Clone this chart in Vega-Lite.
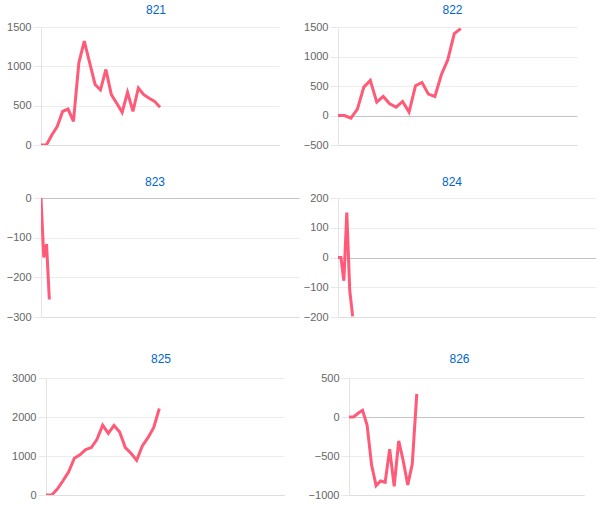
{
  "$schema": "https://vega.github.io/schema/vega-lite/v6.json",
  "padding": {"left": 0, "top": 4, "right": 0, "bottom": 0},
  "background": "#ffffff",
  "data": {"values": [
    {"p":"821","i":0,"v":0},{"p":"821","i":1,"v":0},{"p":"821","i":2,"v":128},{"p":"821","i":3,"v":235},{"p":"821","i":4,"v":427},{"p":"821","i":5,"v":457},{"p":"821","i":6,"v":300},{"p":"821","i":7,"v":1045},{"p":"821","i":8,"v":1320},{"p":"821","i":9,"v":1045},{"p":"821","i":10,"v":770},{"p":"821","i":11,"v":700},{"p":"821","i":12,"v":960},{"p":"821","i":13,"v":640},{"p":"821","i":14,"v":530},{"p":"821","i":15,"v":415},{"p":"821","i":16,"v":670},{"p":"821","i":17,"v":427},{"p":"821","i":18,"v":725},{"p":"821","i":19,"v":640},{"p":"821","i":20,"v":595},{"p":"821","i":21,"v":555},{"p":"821","i":22,"v":480},
    {"p":"822","i":0,"v":0},{"p":"822","i":1,"v":0},{"p":"822","i":2,"v":-45},{"p":"822","i":3,"v":108},{"p":"822","i":4,"v":481},{"p":"822","i":5,"v":595},{"p":"822","i":6,"v":226},{"p":"822","i":7,"v":323},{"p":"822","i":8,"v":198},{"p":"822","i":9,"v":142},{"p":"822","i":10,"v":238},{"p":"822","i":11,"v":57},{"p":"822","i":12,"v":504},{"p":"822","i":13,"v":560},{"p":"822","i":14,"v":362},{"p":"822","i":15,"v":323},{"p":"822","i":16,"v":691},{"p":"822","i":17,"v":946},{"p":"822","i":18,"v":1388},{"p":"822","i":19,"v":1472},
    {"p":"823","i":0,"v":0},{"p":"823","i":1,"v":-150},{"p":"823","i":2,"v":-116},{"p":"823","i":3,"v":-256},
    {"p":"824","i":0,"v":0},{"p":"824","i":1,"v":0},{"p":"824","i":2,"v":-78},{"p":"824","i":3,"v":151},{"p":"824","i":4,"v":-110},{"p":"824","i":5,"v":-198},
    {"p":"825","i":0,"v":0},{"p":"825","i":1,"v":0},{"p":"825","i":2,"v":150},{"p":"825","i":3,"v":365},{"p":"825","i":4,"v":595},{"p":"825","i":5,"v":943},{"p":"825","i":6,"v":1028},{"p":"825","i":7,"v":1164},{"p":"825","i":8,"v":1215},{"p":"825","i":9,"v":1427},{"p":"825","i":10,"v":1793},{"p":"825","i":11,"v":1580},{"p":"825","i":12,"v":1784},{"p":"825","i":13,"v":1614},{"p":"825","i":14,"v":1215},{"p":"825","i":15,"v":1070},{"p":"825","i":16,"v":892},{"p":"825","i":17,"v":1257},{"p":"825","i":18,"v":1470},{"p":"825","i":19,"v":1725},{"p":"825","i":20,"v":2217},
    {"p":"826","i":0,"v":0},{"p":"826","i":1,"v":0},{"p":"826","i":2,"v":47},{"p":"826","i":3,"v":85},{"p":"826","i":4,"v":-102},{"p":"826","i":5,"v":-616},{"p":"826","i":6,"v":-880},{"p":"826","i":7,"v":-820},{"p":"826","i":8,"v":-837},{"p":"826","i":9,"v":-412},{"p":"826","i":10,"v":-888},{"p":"826","i":11,"v":-306},{"p":"826","i":12,"v":-561},{"p":"826","i":13,"v":-871},{"p":"826","i":14,"v":-603},{"p":"826","i":15,"v":297}
  ]},
  "spacing": 26,
  "vconcat": [
    {
      "spacing": 23,
      "hconcat": [
        {
          "width": 238, "height": 118,
          "transform": [{"filter": "datum.p == '821'"}],
          "title": {"text": "821", "dx": -4, "offset": 4},
          "mark": {"type": "line", "color": "#ff5a78", "strokeWidth": 3, "clip": true},
          "encoding": {
            "x": {"field": "i", "type": "quantitative", "scale": {"domain": [0, 44], "nice": false, "zero": false}, "axis": {"minExtent": 0, "maxExtent": 0}},
            "y": {"field": "v", "type": "quantitative", "scale": {"domain": [0, 1500], "nice": false}, "axis": {"values": [0, 500, 1000, 1500], "minExtent": 41, "maxExtent": 41}}
          }
        },
        {
          "width": 239, "height": 118,
          "transform": [{"filter": "datum.p == '822'"}],
          "title": {"text": "822", "dx": -5, "offset": 4},
          "mark": {"type": "line", "color": "#ff5a78", "strokeWidth": 3, "clip": true},
          "encoding": {
            "x": {"field": "i", "type": "quantitative", "scale": {"domain": [0, 37], "nice": false, "zero": false}, "axis": {"minExtent": 0, "maxExtent": 0}},
            "y": {"field": "v", "type": "quantitative", "scale": {"domain": [-500, 1500], "nice": false}, "axis": {"values": [-500, 0, 500, 1000, 1500], "minExtent": 36, "maxExtent": 36}}
          }
        }
      ]
    },
    {
      "spacing": 3,
      "hconcat": [
        {
          "width": 258, "height": 119,
          "transform": [{"filter": "datum.p == '823'"}],
          "title": {"text": "823", "dx": -15, "offset": 3},
          "mark": {"type": "line", "color": "#ff5a78", "strokeWidth": 3, "clip": true},
          "encoding": {
            "x": {"field": "i", "type": "quantitative", "scale": {"domain": [0, 93], "nice": false, "zero": false}, "axis": {"minExtent": 10, "maxExtent": 10}},
            "y": {"field": "v", "type": "quantitative", "scale": {"domain": [-300, 0], "nice": false}, "axis": {"values": [-300, -200, -100, 0], "minExtent": 41, "maxExtent": 41}}
          }
        },
        {
          "width": 258, "height": 119,
          "transform": [{"filter": "datum.p == '824'"}],
          "title": {"text": "824", "dx": -15, "offset": 3},
          "mark": {"type": "line", "color": "#ff5a78", "strokeWidth": 3, "clip": true},
          "encoding": {
            "x": {"field": "i", "type": "quantitative", "scale": {"domain": [0, 88], "nice": false, "zero": false}, "axis": {"minExtent": 10, "maxExtent": 10}},
            "y": {"field": "v", "type": "quantitative", "scale": {"domain": [-200, 200], "nice": false}, "axis": {"values": [-200, -100, 0, 100, 200], "minExtent": 36, "maxExtent": 36}}
          }
        }
      ]
    },
    {
      "spacing": 24,
      "hconcat": [
        {
          "width": 243, "height": 117,
          "transform": [{"filter": "datum.p == '825'"}],
          "title": {"text": "825", "dx": -1.5, "offset": 6},
          "mark": {"type": "line", "color": "#ff5a78", "strokeWidth": 3, "clip": true},
          "encoding": {
            "x": {"field": "i", "type": "quantitative", "scale": {"domain": [-0.88, 42], "nice": false, "zero": false}, "axis": {"minExtent": 0, "maxExtent": 0}},
            "y": {"field": "v", "type": "quantitative", "scale": {"domain": [0, 3000], "nice": false}, "axis": {"values": [0, 1000, 2000, 3000], "offset": -5, "minExtent": 41, "maxExtent": 41}}
          }
        },
        {
          "width": 235, "height": 117,
          "transform": [{"filter": "datum.p == '826'"}],
          "title": {"text": "826", "dx": -7, "offset": 6},
          "mark": {"type": "line", "color": "#ff5a78", "strokeWidth": 3, "clip": true},
          "encoding": {
            "x": {"field": "i", "type": "quantitative", "scale": {"domain": [0, 52], "nice": false, "zero": false}, "axis": {"minExtent": 0, "maxExtent": 0}},
            "y": {"field": "v", "type": "quantitative", "scale": {"domain": [-1000, 500], "nice": false}, "axis": {"values": [-1000, -500, 0, 500], "minExtent": 36, "maxExtent": 36}}
          }
        }
      ]
    }
  ],
  "config": {
    "view": {"stroke": null},
    "title": {"font": "Liberation Sans", "fontSize": 12, "fontWeight": "normal", "color": "#0066cc", "anchor": "middle", "frame": "group"},
    "axisX": {"labels": false, "ticks": false, "grid": false, "title": null, "domainColor": "#dddddd", "domainWidth": 1},
    "axisY": {
      "title": null, "format": "d",
      "labelFont": "Liberation Sans", "labelFontSize": 11, "labelColor": "#666666", "labelPadding": 2,
      "tickSize": 8, "tickColor": "#e8e8e8",
      "domainColor": "#e4e4e4",
      "grid": true,
      "gridColor": {"condition": {"test": "datum.value === 0", "value": "#c4c4c4"}, "value": "#ececec"}
    }
  }
}
